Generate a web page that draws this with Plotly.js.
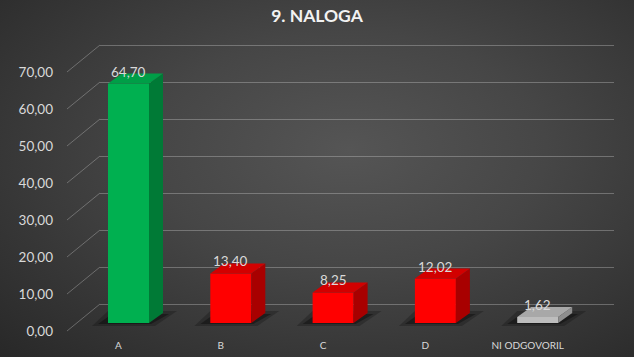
<!DOCTYPE html>
<html>
<head>
<meta charset="utf-8">
<script src="https://cdn.plot.ly/plotly-3.0.1.min.js"></script>
<style>
  html, body { margin: 0; padding: 0; }
  body {
    width: 634px; height: 357px; overflow: hidden;
    background: radial-gradient(ellipse farthest-corner at 55% 42%, #555555 0%, #464646 40%, #282828 100%);
  }
  #chart { width: 634px; height: 357px; }
</style>
</head>
<body>
<div id="chart"></div>
<script>
// ---- data ----
const categories = ['A', 'B', 'C', 'D', 'NI ODGOVORIL'];
const values = [64.70, 13.40, 8.25, 12.02, 1.62];
const frontColors = ['#00B050', '#FF0000', '#FF0000', '#FF0000', '#BDBDBD'];
const topColors = ['#009E47', '#D20000', '#D20000', '#D20000', '#A8A8A8'];
const sideColors = ['#007A36', '#A80000', '#A80000', '#A80000', '#8E8E8E'];
const yTicks = [0, 10, 20, 30, 40, 50, 60, 70];
const yTickText = yTicks.map(v => v.toFixed(2).replace('.', ','));
const title = '9. NALOGA';

// ---- geometry (pixels) ----
const W = 634, H = 357;
const PX_CAT = 102.3, PX_UNIT = 3.7;
const BAR_C0 = 128.5, LABEL_C0 = 118.5;
const BAR_BASE = 323, BACK_BASE = 304, FRONT_BASE = 331;
const BACK_LEFT = 100, BACK_RIGHT = 614, FRONT_LEFT = 67;
const HALF_W = 20.5 / PX_CAT, DX = 14 / PX_CAT, DY = 10 / PX_UNIT;
const FONT = 'Lato, "Open Sans", sans-serif';
const GRID = 'rgba(210,210,210,0.34)';

const rangeX = c0 => [-c0 / PX_CAT, (W - c0) / PX_CAT];
const rangeY = b => [-(H - b) / PX_UNIT, b / PX_UNIT];
const ox = p => p / PX_CAT;      // px -> x units
const oy = p => -p / PX_UNIT;    // px downward -> y units

const idx = categories.map((_, i) => i);
const traces = [];

// back wall subplot (grid only)
traces.push({x: [], y: [], type: 'scatter', xaxis: 'x', yaxis: 'y', hoverinfo: 'skip'});

// front faces
traces.push({
  type: 'bar', x: idx, y: values, width: 2 * HALF_W,
  marker: {color: frontColors, line: {width: 0}},
  xaxis: 'x2', yaxis: 'y2', hoverinfo: 'skip'
});

// top and side faces
idx.forEach(i => {
  const v = values[i], xl = i - HALF_W, xr = i + HALF_W;
  traces.push({
    type: 'scatter', mode: 'lines', fill: 'toself', fillcolor: sideColors[i],
    line: {width: 0}, xaxis: 'x2', yaxis: 'y2', hoverinfo: 'skip',
    x: [xr, xr + DX, xr + DX, xr, xr], y: [0, DY, v + DY, v, 0]
  });
  traces.push({
    type: 'scatter', mode: 'lines', fill: 'toself', fillcolor: topColors[i],
    line: {width: 0}, xaxis: 'x2', yaxis: 'y2', hoverinfo: 'skip',
    x: [xl, xr, xr + DX, xl + DX, xl], y: [v, v, v + DY, v + DY, v]
  });
});

// labels subplot
traces.push({x: [], y: [], type: 'scatter', xaxis: 'x3', yaxis: 'y3', hoverinfo: 'skip'});

const shapes = [];
// diagonal connectors from front plane to back wall
yTicks.forEach(v => {
  shapes.push({
    type: 'line', layer: 'below', xref: 'paper', yref: 'y',
    x0: FRONT_LEFT / W, x1: BACK_LEFT / W,
    y0: v + oy(FRONT_BASE - BACK_BASE), y1: v,
    line: {color: GRID, width: 1}
  });
});
// shadows under bars
idx.forEach(i => {
  const xl = i - HALF_W, xr = i + HALF_W;
  const p = [
    [xl - ox(16), oy(3)], [xr + ox(6), oy(3)], [xr + ox(28), oy(-12)], [xl + ox(0), oy(-12)]
  ];
  const p2 = [
    [xl - ox(10), oy(1)], [xr + ox(2), oy(1)], [xr + ox(20), oy(-9)], [xl + ox(4), oy(-9)]
  ];
  [[p, 'rgba(0,0,0,0.22)'], [p2, 'rgba(0,0,0,0.35)']].forEach(([pts, c]) => {
    shapes.push({
      type: 'path', layer: 'below', xref: 'x2', yref: 'y2',
      path: 'M' + pts.map(q => q[0] + ',' + q[1]).join(' L') + ' Z',
      fillcolor: c, line: {width: 0}
    });
  });
});

const annotations = idx.map(i => ({
  xref: 'x2', yref: 'y2', x: i, y: values[i],
  text: values[i].toFixed(2).replace('.', ','),
  showarrow: false, yanchor: 'bottom', xanchor: 'center', yshift: 2,
  font: {family: FONT, size: 13.5, color: '#d9d9d9'}
}));

const hidden = {showgrid: false, zeroline: false, showticklabels: false, showline: false, ticks: '', fixedrange: true};

const layout = {
  width: W, height: H,
  margin: {l: 0, r: 0, t: 0, b: 0, pad: 0},
  paper_bgcolor: 'rgba(0,0,0,0)', plot_bgcolor: 'rgba(0,0,0,0)',
  showlegend: false,
  title: {
    text: '<b>' + title + '</b>', x: 0.5, xanchor: 'center',
    y: 1 - 16 / H, yanchor: 'middle',
    font: {family: FONT, size: 17.5, color: '#f2f2f2'}
  },
  xaxis: Object.assign({}, hidden, {domain: [BACK_LEFT / W, BACK_RIGHT / W], range: [0, 1], anchor: 'y'}),
  yaxis: Object.assign({}, hidden, {
    domain: [0, 1], range: rangeY(BACK_BASE), anchor: 'x',
    showgrid: true, gridcolor: GRID, gridwidth: 1, tickmode: 'array', tickvals: yTicks
  }),
  xaxis2: Object.assign({}, hidden, {domain: [0, 1], range: rangeX(BAR_C0), anchor: 'y2'}),
  yaxis2: Object.assign({}, hidden, {domain: [0, 1], range: rangeY(BAR_BASE), anchor: 'x2'}),
  xaxis3: Object.assign({}, hidden, {
    domain: [0, 1], range: rangeX(LABEL_C0), anchor: 'free', position: (H - 338) / H, side: 'bottom',
    showticklabels: true, tickmode: 'array', tickvals: idx, ticktext: categories,
    tickfont: {family: FONT, size: 10, color: '#d9d9d9'}
  }),
  yaxis3: Object.assign({}, hidden, {
    domain: [0, 1], range: rangeY(FRONT_BASE), anchor: 'free', position: 53 / W, side: 'left',
    showticklabels: true, tickmode: 'array', tickvals: yTicks, ticktext: yTickText,
    tickfont: {family: FONT, size: 13.5, color: '#d9d9d9'}
  }),
  shapes: shapes,
  annotations: annotations
};

Plotly.newPlot('chart', traces, layout, {displayModeBar: false, staticPlot: true});
</script>
</body>
</html>
